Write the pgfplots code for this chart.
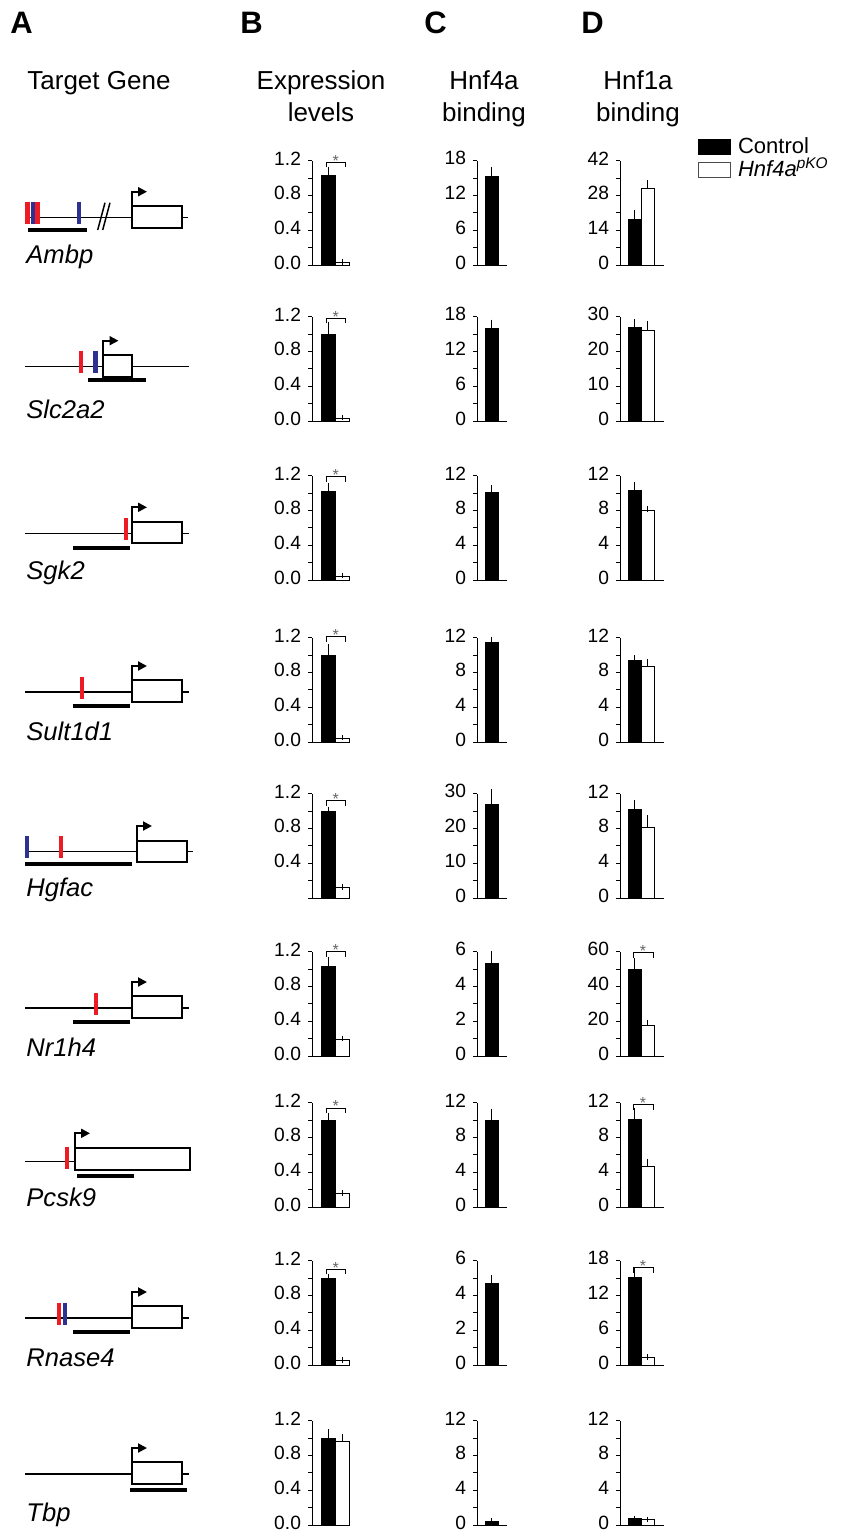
\documentclass[border=0pt]{standalone}
\usepackage{fontspec}
\setmainfont{Liberation Sans}
\usepackage{pgfplots}
\pgfplotsset{compat=1.18}
\usetikzlibrary{arrows.meta}
\definecolor{mred}{RGB}{237,28,36}
\definecolor{mblue}{RGB}{46,49,146}
\newcommand{\hfont}{\fontsize{13}{16}\selectfont}
\newcommand{\pfont}{\bfseries\fontsize{15.5}{16}\selectfont}
\newcommand{\gfont}{\itshape\fontsize{12.8}{14}\selectfont}

\pgfplotsset{
  barax/.style={
    scale only axis, height=52.15pt, anchor=south west,
    ymin=0, enlargelimits=false, clip=false,
    axis x line=bottom, axis y line=left,
    axis line style={-, black, line width=0.5pt},
    xtick=\empty,
    tick align=outside, ytick pos=left,
    minor y tick num=1,
    major tick length=2pt, minor tick length=2pt,
    tick style={black, line width=0.5pt},
    tick label style={font=\fontsize{9.6}{10}\selectfont},
    yticklabel style={yshift=1.2pt},
    /pgf/number format/assume math mode=true,
  },
  colB/.style={barax, width=19pt, xmin=0, xmax=38, ymax=1.2, ytick={0,0.4,0.8,1.2},
    y tick label style={/pgf/number format/fixed, /pgf/number format/fixed zerofill, /pgf/number format/precision=1}},
  colC/.style={barax, width=15pt, xmin=0, xmax=30},
  colD/.style={barax, width=22pt, xmin=0, xmax=44},
  blk/.style={ybar, bar shift=0pt, fill=black, draw=black, line width=0.5pt,
    error bars/y dir=plus, error bars/y explicit,
    error bars/error bar style={line width=0.5pt, black},
    error bars/error mark options={black, line width=0.5pt, mark size=1.4pt}},
  wht/.style={ybar, bar shift=0pt, fill=white, draw=black, line width=0.5pt,
    error bars/y dir=plus, error bars/y explicit,
    error bars/error bar style={line width=0.5pt, black},
    error bars/error mark options={black, line width=0.5pt, mark size=1.4pt}},
  geneax/.style={scale only axis, width=115pt, height=40pt, xmin=0, xmax=230,
    ymin=-40, ymax=40, y dir=reverse, hide axis, clip=false, anchor=west},
  gl/.style={black, line width=0.75pt},
  gbox/.style={black, line width=1pt},
  garr/.style={black, line width=1pt, -{Triangle[length=4.5pt, width=4.5pt]}},
  mk/.style={line width=2.2pt},
  amp/.style={black, line width=2pt},
}

\newcommand{\sig}[4]{%
  \addplot[black, line width=0.4pt, forget plot] coordinates {(#1,#4) (#1,#3) (#2,#3) (#2,#4)};
  \node[font=\fontsize{8}{8}\selectfont, text=black!60, anchor=south, inner sep=0pt, yshift=-2pt] at (axis cs:{(#1+#2)/2},#3) {*};}

% #1 zero y px, #2 ctrl, #3 err, #4 ko, #5 err, #6 axis opts, #7 extra
\newcommand{\chartB}[7]{%
  \begin{axis}[colB, at={(156pt,{-#1*0.5pt})}, #6]
  \addplot[blk, bar width=14] coordinates {(16,#2) +- (0,#3)};
  \addplot[wht, bar width=14] coordinates {(30,#4) +- (0,#5)};
  #7
  \end{axis}}
% #1 zero, #2 ymax, #3 ticks, #4 val, #5 err
\newcommand{\chartC}[5]{%
  \begin{axis}[colC, at={(238.5pt,{-#1*0.5pt})}, ymax=#2, ytick={#3}]
  \addplot[blk, bar width=13] coordinates {(14.5,#4) +- (0,#5)};
  \end{axis}}
% #1 zero, #2 ymax, #3 ticks, #4 ctrl, #5 err, #6 ko, #7 err, #8 extra
\newcommand{\chartD}[8]{%
  \begin{axis}[colD, at={(310pt,{-#1*0.5pt})}, ymax=#2, ytick={#3}]
  \addplot[blk, bar width=13] coordinates {(14.5,#4) +- (0,#5)};
  \addplot[wht, bar width=13] coordinates {(27.5,#6) +- (0,#7)};
  #8
  \end{axis}}

\begin{document}
\begin{tikzpicture}
% ---------- headings ----------
\begin{axis}[at={(0pt,0pt)}, anchor=north west, scale only axis, width=424pt, height=765.5pt,
  xmin=0, xmax=848, ymin=0, ymax=1531, y dir=reverse, hide axis, clip=false]
\node[anchor=base west, font=\pfont, inner sep=0pt] at (axis cs:10,33) {A};
\node[anchor=base west, font=\pfont, inner sep=0pt] at (axis cs:240,33) {B};
\node[anchor=base west, font=\pfont, inner sep=0pt] at (axis cs:424,33) {C};
\node[anchor=base west, font=\pfont, inner sep=0pt] at (axis cs:581,33) {D};
\node[anchor=base west, font=\hfont, inner sep=0pt] at (axis cs:27,89) {Target Gene};
\node[anchor=base, font=\hfont, inner sep=0pt] at (axis cs:321,89) {Expression};
\node[anchor=base, font=\hfont, inner sep=0pt] at (axis cs:321,121) {levels};
\node[anchor=base, font=\hfont, inner sep=0pt] at (axis cs:484,89) {Hnf4a};
\node[anchor=base, font=\hfont, inner sep=0pt] at (axis cs:484,121) {binding};
\node[anchor=base, font=\hfont, inner sep=0pt] at (axis cs:638,89) {Hnf1a};
\node[anchor=base, font=\hfont, inner sep=0pt] at (axis cs:638,121) {binding};
\end{axis}

% ---------- gene diagrams ----------
% Ambp
\begin{axis}[geneax, at={(0pt,{-217.7*0.5pt})}]
\addplot[gl] coordinates {(25,0) (131.7,0)};
\addplot[gl] coordinates {(182.3,0) (188,0)};
\addplot[gl] coordinates {(97.7,12.3) (105,-15)};
\addplot[gl] coordinates {(102.7,12.3) (110,-15)};
\addplot[gbox] coordinates {(131.7,-11.7) (182.3,-11.7) (182.3,9.8) (131.7,9.8) (131.7,-11.7)};
\addplot[garr] coordinates {(131.7,-11.7) (131.7,-26) (147,-26)};
\addplot[mk, mred] coordinates {(27.6,-16) (27.6,6.5)};
\addplot[mk, mblue] coordinates {(33,-16) (33,6.5)};
\addplot[mk, mred] coordinates {(37.3,-16) (37.3,6.5)};
\addplot[mk, mblue] coordinates {(78.8,-16) (78.8,6.5)};
\addplot[amp] coordinates {(28.3,12.5) (86.7,12.5)};
\node[anchor=base west, font=\gfont, inner sep=0pt] at (axis cs:26,45.3) {Ambp};
\end{axis}
% Slc2a2
\begin{axis}[geneax, at={(0pt,{-366.7*0.5pt})}]
\addplot[gl] coordinates {(25,0) (103.3,0)};
\addplot[gl] coordinates {(132.3,0) (189,0)};
\addplot[gbox] coordinates {(103.3,-11.7) (132.3,-11.7) (132.3,9.8) (103.3,9.8) (103.3,-11.7)};
\addplot[garr] coordinates {(103.3,-11.7) (103.3,-26) (118.5,-26)};
\addplot[mk, mred] coordinates {(81.2,-16) (81.2,6.5)};
\addplot[mk, mblue] coordinates {(95.3,-16) (95.3,6.5)};
\addplot[amp] coordinates {(88.3,13.5) (146,13.5)};
\node[anchor=base west, font=\gfont, inner sep=0pt] at (axis cs:26,51.3) {Slc2a2};
\end{axis}
% Sgk2
\begin{axis}[geneax, at={(0pt,{-533.3*0.5pt})}]
\addplot[gl] coordinates {(25,0) (132,0)};
\addplot[gl] coordinates {(182.3,0) (189,0)};
\addplot[gbox] coordinates {(132,-11.7) (182.3,-11.7) (182.3,9.8) (132,9.8) (132,-11.7)};
\addplot[garr] coordinates {(132,-11.7) (132,-26) (147,-26)};
\addplot[mk, mred] coordinates {(125.7,-15.5) (125.7,6.7)};
\addplot[amp] coordinates {(72.7,14.4) (130,14.4)};
\node[anchor=base west, font=\gfont, inner sep=0pt] at (axis cs:26,45.7) {Sgk2};
\end{axis}
% Sult1d1
\begin{axis}[geneax, at={(0pt,{-692*0.5pt})}]
\addplot[gl] coordinates {(25,0) (132,0)};
\addplot[gl] coordinates {(182.3,0) (189,0)};
\addplot[gbox] coordinates {(132,-11.7) (182.3,-11.7) (182.3,9.8) (132,9.8) (132,-11.7)};
\addplot[garr] coordinates {(132,-11.7) (132,-26) (147,-26)};
\addplot[mk, mred] coordinates {(82,-15.5) (82,6.7)};
\addplot[amp] coordinates {(72.7,14.4) (130,14.4)};
\node[anchor=base west, font=\gfont, inner sep=0pt] at (axis cs:26,48) {Sult1d1};
\end{axis}
% Hgfac
\begin{axis}[geneax, at={(0pt,{-851.7*0.5pt})}]
\addplot[gl] coordinates {(29,0) (136.7,0)};
\addplot[gl] coordinates {(187.3,0) (193.3,0)};
\addplot[gbox] coordinates {(136.7,-11) (187.3,-11) (187.3,10) (136.7,10) (136.7,-11)};
\addplot[garr] coordinates {(136.7,-11) (136.7,-25.7) (152,-25.7)};
\addplot[mk, mblue] coordinates {(27.2,-15.7) (27.2,6.6)};
\addplot[mk, mred] coordinates {(61,-15.7) (61,6.6)};
\addplot[amp] coordinates {(25,12.6) (132.3,12.6)};
\node[anchor=base west, font=\gfont, inner sep=0pt] at (axis cs:26,45) {Hgfac};
\end{axis}
% Nr1h4
\begin{axis}[geneax, at={(0pt,{-1008*0.5pt})}]
\addplot[gl] coordinates {(25,0) (132,0)};
\addplot[gl] coordinates {(182.3,0) (189,0)};
\addplot[gbox] coordinates {(132,-11.7) (182.3,-11.7) (182.3,9.8) (132,9.8) (132,-11.7)};
\addplot[garr] coordinates {(132,-11.7) (132,-26) (147,-26)};
\addplot[mk, mred] coordinates {(96,-15.5) (96,6.7)};
\addplot[amp] coordinates {(72.7,14.4) (130,14.4)};
\node[anchor=base west, font=\gfont, inner sep=0pt] at (axis cs:26,48.5) {Nr1h4};
\end{axis}
% Pcsk9
\begin{axis}[geneax, at={(0pt,{-1161.7*0.5pt})}]
\addplot[gl] coordinates {(25,0) (75,0)};
\addplot[gbox] coordinates {(75,-13.4) (190,-13.4) (190,8.3) (75,8.3) (75,-13.4)};
\addplot[garr] coordinates {(75,-13.4) (75,-28.4) (90,-28.4)};
\addplot[mk, mred] coordinates {(67.2,-14.4) (67.2,7.6)};
\addplot[amp] coordinates {(77.3,14.3) (134.3,14.3)};
\node[anchor=base west, font=\gfont, inner sep=0pt] at (axis cs:26,45) {Pcsk9};
\end{axis}
% Rnase4
\begin{axis}[geneax, at={(0pt,{-1318*0.5pt})}]
\addplot[gl] coordinates {(25,0) (132,0)};
\addplot[gl] coordinates {(182.3,0) (189,0)};
\addplot[gbox] coordinates {(132,-11.7) (182.3,-11.7) (182.3,9.8) (132,9.8) (132,-11.7)};
\addplot[garr] coordinates {(132,-11.7) (132,-26) (147,-26)};
\addplot[mk, mred] coordinates {(59,-15.5) (59,6.7)};
\addplot[mk, mblue] coordinates {(65,-15.5) (65,6.7)};
\addplot[amp] coordinates {(72.7,14.4) (130,14.4)};
\node[anchor=base west, font=\gfont, inner sep=0pt] at (axis cs:26,48.5) {Rnase4};
\end{axis}
% Tbp
\begin{axis}[geneax, at={(0pt,{-1474*0.5pt})}]
\addplot[gl] coordinates {(25,0) (132,0)};
\addplot[gl] coordinates {(182.3,0) (189,0)};
\addplot[gbox] coordinates {(132,-11.7) (182.3,-11.7) (182.3,9.8) (132,9.8) (132,-11.7)};
\addplot[garr] coordinates {(132,-11.7) (132,-26) (147,-26)};
\addplot[amp] coordinates {(130,16) (187,16)};
\node[anchor=base west, font=\gfont, inner sep=0pt] at (axis cs:26,47) {Tbp};
\end{axis}

% ---------- B: expression levels ----------
\chartB{265}{1.03}{0.06}{0.03}{0.005}{}{\sig{14}{33.5}{1.18}{1.122}}
\chartB{421}{1.00}{0.11}{0.03}{0.01}{}{\sig{14}{33.5}{1.18}{1.122}}
\chartB{580}{1.02}{0.06}{0.04}{0.01}{}{\sig{14}{33.5}{1.19}{1.132}}
\chartB{742}{1.00}{0.10}{0.04}{0.01}{}{\sig{14}{33.5}{1.21}{1.152}}
\chartB{898}{1.00}{0.02}{0.12}{0.01}{yticklabels={{},0.4,0.8,1.2}}{\sig{14}{33.5}{1.12}{1.062}}
\chartB{1056}{1.03}{0.08}{0.19}{0.01}{}{\sig{14}{33.5}{1.20}{1.142}}
\chartB{1207}{1.00}{0.05}{0.15}{0.01}{}{\sig{14}{33.5}{1.14}{1.082}}
\chartB{1365}{1.00}{0.02}{0.05}{0.01}{}{\sig{14}{33.5}{1.10}{1.042}}
\chartB{1525}{1.00}{0.07}{0.96}{0.05}{}{}

% ---------- C: Hnf4a binding ----------
\chartC{265}{18}{0,6,12,18}{15.2}{1.2}
\chartC{421}{18}{0,6,12,18}{16}{1.0}
\chartC{580}{12}{0,4,8,12}{10.1}{0.5}
\chartC{742}{12}{0,4,8,12}{11.4}{0.4}
\chartC{898}{30}{0,10,20,30}{27}{3.5}
\chartC{1056}{6}{0,2,4,6}{5.3}{0.6}
\chartC{1207}{12}{0,4,8,12}{10}{1.0}
\chartC{1365}{6}{0,2,4,6}{4.7}{0.3}
\chartC{1525}{12}{0,4,8,12}{0.4}{0.05}

% ---------- D: Hnf1a binding ----------
\begin{axis}[colD, at={(310pt,{-265*0.5pt})}, ymax=42, ytick={0,14,28,42},
  legend style={at={(rel axis cs:1.77,1.235)}, anchor=north west, draw=none, fill=none,
    font=\fontsize{11}{12}\selectfont, inner sep=0pt, row sep=0.6pt,
    cells={anchor=west}, nodes={inner sep=0.4pt, text height=8.3pt, text depth=1.5pt},
    /tikz/every odd column/.append style={column sep=3pt}}]
\addplot[blk, bar width=13, legend image code/.code={\draw[fill=black, draw=black, line width=0.5pt] (0pt,-3.75pt) rectangle (16pt,3.75pt);}] coordinates {(14.5,18.5) +- (0,2.7)};
\addlegendentry{Control}
\addplot[wht, bar width=13, legend image code/.code={\draw[fill=white, draw=black!70, line width=0.5pt] (0pt,-3.75pt) rectangle (16pt,3.75pt);}] coordinates {(27.5,30.9) +- (0,2.2)};
\addlegendentry{\textit{Hnf4a\textsuperscript{pKO}}}
\end{axis}
\chartD{421}{30}{0,10,20,30}{27}{1.5}{26}{2}{}
\chartD{580}{12}{0,4,8,12}{10.3}{0.6}{8.0}{0.15}{}
\chartD{742}{12}{0,4,8,12}{9.4}{0.3}{8.7}{0.5}{}
\chartD{898}{12}{0,4,8,12}{10.2}{0.7}{8.1}{1.1}{}
\chartD{1056}{60}{0,20,40,60}{49.5}{5}{17.3}{2}{\sig{13}{33}{59.5}{56.6}}
\chartD{1207}{12}{0,4,8,12}{10.1}{1.0}{4.7}{0.5}{\sig{13}{33}{11.8}{11.2}}
\chartD{1365}{18}{0,6,12,18}{15.1}{1.2}{1.3}{0.1}{\sig{13}{33}{16.8}{15.9}}
\chartD{1525}{12}{0,4,8,12}{0.7}{0.05}{0.6}{0.05}{}

\pgfresetboundingbox
\path[use as bounding box] (0pt,0pt) rectangle (424pt,-765.5pt);
\end{tikzpicture}
\end{document}
